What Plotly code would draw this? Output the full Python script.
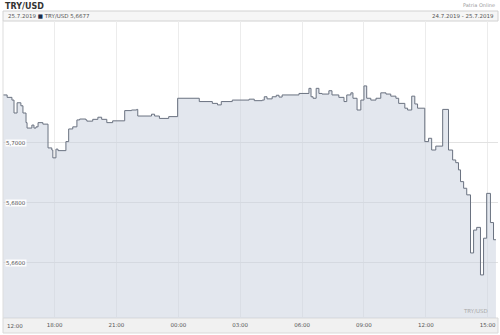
import plotly.graph_objects as go

# ---- data ----
times_24 = ["15:30","15:42","15:56","16:02","16:11","16:22","16:28","16:37","16:40","16:54",
            "17:00","17:06","17:12","17:26","17:41","17:52","17:55","18:04","18:10","18:33",
            "18:41","18:53","19:05","19:13","19:31","19:34","19:51","20:06","20:17","20:32",
            "20:49","21:24","21:44","21:59","22:02","22:42","22:51","23:05","23:32","23:58"]
values_24 = [5.7158,5.7150,5.7141,5.7098,5.7132,5.7122,5.7098,5.7066,5.7048,5.7058,
             5.7048,5.7052,5.7066,5.7061,5.6982,5.6975,5.6949,5.6978,5.6973,5.7003,
             5.7045,5.7052,5.7075,5.7078,5.7075,5.7071,5.7077,5.7084,5.7077,5.7066,
             5.7072,5.7106,5.7108,5.7110,5.7088,5.7094,5.7088,5.7080,5.7086,5.7147]
times_25 = ["01:01","01:39","01:54","02:05","02:37","03:26","03:41","04:04","04:10","04:18",
            "04:33","04:45","04:53","05:02","05:51","06:20","06:26","06:32","06:41","06:49",
            "06:58","07:18","07:27","07:47","08:02","08:10","08:22","08:28","08:40","08:51",
            "09:00","09:08","09:20","09:35","09:49","10:04","10:18","10:33","10:41","10:59",
            "11:07","11:19","11:28","11:36","11:57","12:08","12:17","12:29","12:49","13:06",
            "13:18","13:27","13:35","13:41","13:50","13:59","14:10","14:19","14:28","14:39",
            "14:48","14:57","15:08","15:17","15:24"]
values_25 = [5.7136,5.7130,5.7125,5.7136,5.7141,5.7144,5.7139,5.7141,5.7152,5.7145,
             5.7152,5.7157,5.7151,5.7158,5.7163,5.7180,5.7152,5.7147,5.7180,5.7163,
             5.7161,5.7172,5.7158,5.7150,5.7136,5.7158,5.7165,5.7147,5.7108,5.7141,
             5.7188,5.7147,5.7141,5.7147,5.7165,5.7161,5.7154,5.7147,5.7130,5.7114,
             5.7108,5.7154,5.7128,5.7114,5.7003,5.7014,5.6975,5.6988,5.7110,5.6975,
             5.6942,5.6933,5.6909,5.6870,5.6848,5.6826,5.6633,5.6709,5.6718,5.6560,
             5.6682,5.6831,5.6734,5.6677,5.6677]

x_tick_times = ["2019-07-24 18:00","2019-07-24 21:00","2019-07-25 00:00","2019-07-25 03:00",
                "2019-07-25 06:00","2019-07-25 09:00","2019-07-25 12:00","2019-07-25 15:00"]
x_tick_labels = ["18:00","21:00","00:00","03:00","06:00","09:00","12:00","15:00"]
first_label = "12:00"
y_ticks = [5.66, 5.68, 5.70]
y_tick_labels = ["5,6600", "5,6800", "5,7000"]

x = ["2019-07-24 " + t for t in times_24] + ["2019-07-25 " + t for t in times_25]
y = values_24 + values_25

FONT = "DejaVu Sans"
W, H = 500, 335
ML, MR, MT, MB = 3, 2, 21, 17
PH = H - MT - MB

fig = go.Figure()
fig.add_trace(go.Scatter(
    x=x, y=y, mode="lines", line=dict(shape="hv", color="#6a7280", width=1),
    fill="tozeroy", fillcolor="rgba(200,208,222,0.5)", hoverinfo="skip"))

ann = []
for v, t in zip(y_ticks, y_tick_labels):
    ann.append(dict(x=0, xref="paper", y=v, yref="y", text=t, showarrow=False,
                    xanchor="left", xshift=2, font=dict(family=FONT, size=5.5, color="#555"),
                    bgcolor="rgba(255,255,255,0.9)", borderpad=0))
ann.append(dict(x=0, xref="paper", y=0, yref="paper", text=first_label, showarrow=False,
                xanchor="left", yanchor="middle", xshift=2, yshift=-7.5,
                font=dict(family=FONT, size=5.5, color="#555")))
ann.append(dict(x=0, xref="paper", y=1, yref="paper", text="<b>TRY/USD</b>", showarrow=False,
                xanchor="left", yanchor="middle", yshift=15, xshift=0,
                font=dict(family=FONT, size=8, color="#333")))
ann.append(dict(x=1, xref="paper", y=1, yref="paper", text="Patria Online", showarrow=False,
                xanchor="right", yanchor="middle", yshift=16, xshift=-1,
                font=dict(family=FONT, size=5, color="#999")))
ann.append(dict(x=0, xref="paper", y=1, yref="paper",
                text="25.7.2019 <span style='color:#1b2a4a'>■</span> TRY/USD 5,6677",
                showarrow=False, xanchor="left", yanchor="middle", yshift=5.5, xshift=3,
                font=dict(family=FONT, size=5.5, color="#555")))
ann.append(dict(x=1, xref="paper", y=1, yref="paper", text="24.7.2019 - 25.7.2019",
                showarrow=False, xanchor="right", yanchor="middle", yshift=5.5, xshift=-2,
                font=dict(family=FONT, size=5.5, color="#555")))
ann.append(dict(x=1, xref="paper", y=0, yref="paper", text="TRY/USD", showarrow=False,
                xanchor="right", yanchor="bottom", yshift=2, xshift=-8,
                font=dict(family=FONT, size=5.5, color="#aaa")))

shapes = [
    # header bar
    dict(type="rect", xref="paper", yref="paper", x0=0, x1=1, y0=1, y1=1 + 10 / PH,
         fillcolor="#f6f6f6", line=dict(color="#d2d2d2", width=1), layer="below"),
    # x-axis label bar
    dict(type="rect", xref="paper", yref="paper", x0=0, x1=1, y0=-15 / PH, y1=0,
         fillcolor="#f1f1f1", line=dict(color="#d9d9d9", width=1), layer="below"),
    # left border
    dict(type="line", xref="paper", yref="paper", x0=0, x1=0, y0=0, y1=1,
         line=dict(color="#dddddd", width=1)),
]

fig.update_layout(
    width=W, height=H, margin=dict(l=ML, r=MR, t=MT, b=MB),
    paper_bgcolor="white", plot_bgcolor="white", showlegend=False,
    annotations=ann, shapes=shapes,
    xaxis=dict(type="date", range=["2019-07-24 15:30", "2019-07-25 15:30"],
               tickvals=x_tick_times, ticktext=x_tick_labels, showgrid=True,
               gridcolor="#ececec", gridwidth=1, zeroline=False, showline=False,
               ticks="", tickfont=dict(family=FONT, size=5.5, color="#555"),
               ticklabelstandoff=2),
    yaxis=dict(range=[5.64169, 5.74037], tickvals=y_ticks, showticklabels=False,
               showgrid=True, gridcolor="#e2e2e2", gridwidth=1, zeroline=False,
               showline=False, ticks=""),
)

fig.write_html("out.html")
